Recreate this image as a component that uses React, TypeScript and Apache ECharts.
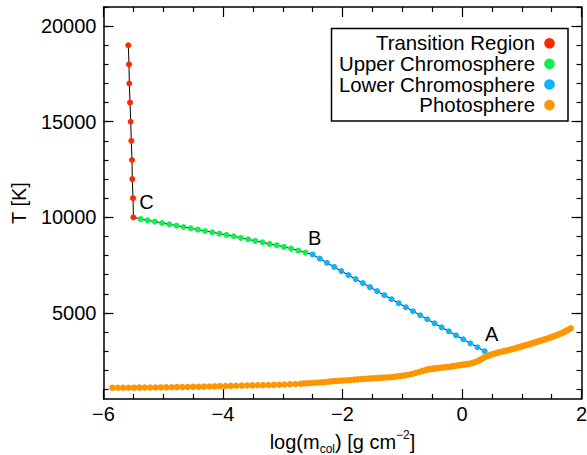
import React, { useEffect, useRef } from 'react';
import * as echarts from 'echarts';

// ---------- data ----------
const xTicks = [-6, -4, -2, 0, 2];
const yMajorTicks = [5000, 10000, 15000, 20000];
const yMinorTicks = [1000, 2000, 3000, 4000, 5000, 6000, 7000, 8000, 9000, 10000, 11000, 12000, 13000, 14000, 15000, 16000, 17000, 18000, 19000, 20000, 21000];

const legendNames = ['Transition Region', 'Upper Chromosphere', 'Lower Chromosphere', 'Photosphere'];

const transitionX = [-5.585, -5.573, -5.568, -5.556, -5.545, -5.534, -5.523, -5.518, -5.506, -5.5];
const transitionT = [19000, 18000, 17000, 16000, 15000, 14000, 13000, 12000, 11000, 10000];

const upperX = [-5.38, -5.26, -5.14, -5.02, -4.9, -4.78, -4.66, -4.54, -4.42, -4.3, -4.18, -4.06, -3.94, -3.82, -3.7, -3.58, -3.46, -3.34, -3.22, -3.1, -2.98, -2.86, -2.74, -2.62];
const upperT = [9911, 9844, 9771, 9703, 9635, 9563, 9495, 9427, 9354, 9286, 9219, 9146, 9078, 9010, 8922, 8854, 8766, 8698, 8609, 8542, 8453, 8365, 8260, 8156];

const lowerX = [-2.5, -2.38, -2.26, -2.14, -2.02, -1.9, -1.78, -1.66, -1.54, -1.42, -1.3, -1.18, -1.06, -0.94, -0.82, -0.7, -0.58, -0.46, -0.34, -0.22, -0.1, 0.02, 0.14, 0.26, 0.38];
const lowerT = [8060, 7840, 7622, 7406, 7192, 6980, 6770, 6560, 6350, 6140, 5930, 5720, 5510, 5300, 5090, 4880, 4670, 4460, 4250, 4040, 3830, 3620, 3410, 3205, 3000];

const photoX = [
  -5.85, -5.76, -5.67, -5.58, -5.49, -5.4, -5.31, -5.22, -5.13, -5.04, -4.95, -4.86, -4.77, -4.68, -4.59, -4.5, -4.41, -4.32, -4.23, -4.14, -4.05, -3.96, -3.87, -3.78, -3.69, -3.6, -3.51, -3.42, -3.33, -3.24, -3.15, -3.06, -2.97, -2.88, -2.79, -2.7,
  -2.64, -2.58, -2.52, -2.46, -2.4, -2.34, -2.28, -2.22, -2.16, -2.1, -2.04, -1.98, -1.92, -1.86, -1.8, -1.74, -1.68, -1.62, -1.56, -1.5, -1.44, -1.38, -1.32, -1.26, -1.2, -1.14, -1.08, -1.02, -0.96, -0.9, -0.84, -0.78, -0.72, -0.66, -0.6,
  -0.56, -0.52, -0.48, -0.44, -0.4, -0.36, -0.32, -0.28, -0.24, -0.2, -0.16, -0.12, -0.08, -0.04, 0.0, 0.04, 0.08, 0.12, 0.16, 0.2, 0.24, 0.28, 0.32, 0.36, 0.4, 0.44, 0.48, 0.52, 0.56, 0.6, 0.64, 0.68, 0.72, 0.76, 0.8, 0.84, 0.88, 0.92, 0.96, 1.0, 1.04, 1.08, 1.12, 1.16, 1.2, 1.24, 1.28, 1.32, 1.36, 1.4, 1.44, 1.48, 1.52, 1.56, 1.6, 1.64, 1.68, 1.72, 1.76, 1.8, 1.82,
];
const photoT = [
  1085, 1087, 1089, 1091, 1093, 1095, 1098, 1100, 1103, 1106, 1110, 1114, 1118, 1123, 1130, 1136, 1142, 1148, 1155, 1162, 1170, 1178, 1186, 1194, 1202, 1208, 1213, 1218, 1224, 1230, 1238, 1248, 1258, 1270, 1283, 1297,
  1315, 1325, 1336, 1348, 1360, 1372, 1390, 1410, 1432, 1445, 1458, 1470, 1482, 1495, 1510, 1525, 1540, 1555, 1568, 1580, 1592, 1604, 1616, 1628, 1641, 1660, 1682, 1706, 1735, 1768, 1810, 1860, 1915, 1970, 2025,
  2050, 2070, 2088, 2104, 2118, 2132, 2146, 2160, 2172, 2186, 2205, 2225, 2248, 2270, 2290, 2308, 2326, 2346, 2372, 2405, 2450, 2510, 2580, 2650, 2715, 2770, 2815, 2855, 2890, 2925, 2955, 2985, 3015, 3045, 3075, 3105, 3140, 3175, 3215, 3255, 3290, 3325, 3360, 3395, 3435, 3475, 3515, 3555, 3595, 3635, 3675, 3720, 3765, 3810, 3855, 3905, 3955, 4025, 4090, 4160, 4200,
];

const pointLabels = ['C', 'B', 'A'];

// ---------- styles ----------
const FONT = 'Liberation Sans, Arial, Helvetica, sans-serif';
const colors = ['#ff2a00', '#10ee50', '#10b2fa', '#ff9500'];
const symbolSizes = [6, 6, 6, 6.5];
const labelOffsets = [[13, -15], [2, -16], [7, -17]];

const zip = (xs: number[], ys: number[]) => xs.map((x, i) => [x, ys[i]]);

const fmtMinus = (v: number) => (v < 0 ? '\u2212' + Math.abs(v) : String(v));

export default function App() {
  const ref = useRef<HTMLDivElement>(null);

  useEffect(() => {
    if (!ref.current) return;
    const chart = echarts.init(ref.current, undefined, { renderer: 'svg' });

    const red = zip(transitionX, transitionT);
    const green = zip(upperX, upperT);
    const blue = zip(lowerX, lowerT);
    const orange = zip(photoX, photoT);
    const groups = [red, green, blue, orange];

    const anchorPoints = [
      red[red.length - 1],
      blue[0],
      blue[blue.length - 1],
    ];

    const axisLine = { show: true, onZero: false, lineStyle: { color: '#000', width: 1.5 } };
    const tickStyle = { color: '#000', width: 1.2 };

    const xBase = {
      type: 'value' as const,
      min: -6,
      max: 2,
      interval: 2,
      axisLine,
      axisTick: { show: true, inside: true, length: 10, lineStyle: tickStyle },
      minorTick: { show: true, splitNumber: 4, length: 5, lineStyle: tickStyle },
      splitLine: { show: false },
      minorSplitLine: { show: false },
    };

    const yMajor = {
      type: 'value' as const,
      min: 500,
      max: 21000,
      axisLine,
      axisTick: { show: true, inside: true, length: 10, lineStyle: tickStyle, customValues: yMajorTicks },
      splitLine: { show: false },
    };
    const yMinor = {
      type: 'value' as const,
      min: 500,
      max: 21000,
      axisLine: { show: false, onZero: false },
      axisLabel: { show: false },
      axisTick: { show: true, inside: true, length: 5, lineStyle: tickStyle, customValues: yMinorTicks },
      splitLine: { show: false },
    };

    const rowY = (i: number) => 43.3 + i * 20.6;

    chart.setOption({
      animation: false,
      backgroundColor: '#fff',
      textStyle: { fontFamily: FONT },
      grid: { left: 103.5, right: 5.5, top: 7, bottom: 56, containLabel: false, outerBoundsMode: 'none' },
      xAxis: [
        {
          ...xBase,
          position: 'bottom',
          axisLabel: {
            show: true,
            margin: 5,
            fontSize: 20,
            color: '#000',
            fontFamily: FONT,
            customValues: xTicks,
            formatter: (v: number) => fmtMinus(v),
          },
          name: '{a|log(m}{s|col}{a|) [g cm}{p|\u22122}{a|]}',
          nameLocation: 'middle',
          nameGap: 27,
          nameTextStyle: {
            color: '#000',
            fontFamily: FONT,
            fontSize: 20,
            rich: {
              a: { fontSize: 20, lineHeight: 26, fontFamily: FONT, color: '#000' },
              s: { fontSize: 12, lineHeight: 12, verticalAlign: 'bottom', fontFamily: FONT, color: '#000' },
              p: { fontSize: 12, lineHeight: 12, verticalAlign: 'top', fontFamily: FONT, color: '#000' },
            },
          },
        },
        { ...xBase, position: 'top', axisLabel: { show: false } },
      ],
      yAxis: [
        {
          ...yMajor,
          position: 'left',
          axisLabel: {
            show: true,
            margin: 7,
            fontSize: 20,
            color: '#000',
            fontFamily: FONT,
            customValues: yMajorTicks,
            formatter: (v: number) => String(Math.round(v)),
          },
          name: 'T [K]',
          nameLocation: 'middle',
          nameGap: 75,
          nameTextStyle: { color: '#000', fontFamily: FONT, fontSize: 20 },
        },
        { ...yMinor, position: 'left' },
        { ...yMajor, position: 'right', axisLabel: { show: false } },
        { ...yMinor, position: 'right' },
      ],
      series: [
        {
          type: 'line',
          name: 'chromosphere',
          data: [...red, ...green, ...blue],
          symbol: 'none',
          lineStyle: { color: '#000', width: 1 },
          z: 2,
          silent: true,
        },
        ...groups.map((data, i) => ({
          type: 'scatter',
          name: legendNames[i],
          data,
          symbol: 'circle',
          symbolSize: symbolSizes[i],
          itemStyle: { color: colors[i], opacity: 1 },
          z: 3,
          silent: true,
        })),
        {
          type: 'scatter',
          name: 'labels',
          symbolSize: 0,
          silent: true,
          z: 4,
          itemStyle: { color: '#000', opacity: 1 },
          data: anchorPoints.map((p, i) => ({
            name: pointLabels[i],
            value: p,
            label: { offset: labelOffsets[i] },
          })),
          label: {
            show: true,
            position: 'inside',
            formatter: '{b}',
            fontSize: 20,
            color: '#000',
            opacity: 1,
            textBorderWidth: 0,
            textBorderColor: 'transparent',
            fontFamily: FONT,
          },
        },
      ],
      graphic: [
        {
          type: 'rect',
          z: 100,
          shape: { x: 331.5, y: 28.5, width: 236.5, height: 92.5 },
          style: { fill: '#fff', stroke: '#000', lineWidth: 1.5 },
        },
        ...legendNames.map((n, i) => ({
          type: 'text',
          z: 101,
          x: 535,
          y: rowY(i),
          style: {
            text: n,
            fill: '#000',
            fontSize: 20.4,
            fontFamily: FONT,
            align: 'right',
            verticalAlign: 'middle',
          },
        })),
        ...legendNames.map((n, i) => ({
          type: 'circle',
          z: 101,
          shape: { cx: 549.5, cy: rowY(i), r: 5.3 },
          style: { fill: colors[i] },
        })),
      ],
    });

    return () => chart.dispose();
  }, []);

  return (
    <div
      ref={ref}
      style={{ position: 'absolute', left: 0, top: 0, width: 587, height: 455, background: '#fff' }}
    />
  );
}
